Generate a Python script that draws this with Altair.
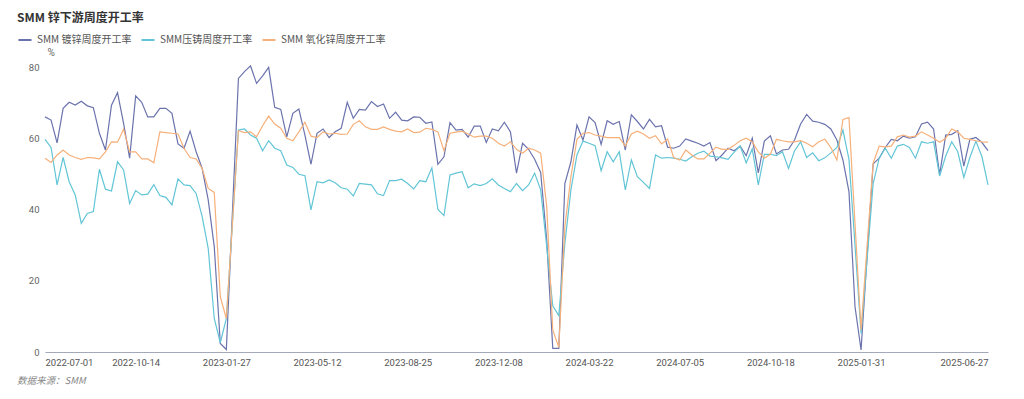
import altair as alt
import pandas as pd

TITLE = "SMM 锌下游周度开工率"
SOURCE = "数据来源：SMM"
SERIES = ["SMM 镀锌周度开工率", "SMM压铸周度开工率", "SMM 氧化锌周度开工率"]
COLORS = ["#6B73AD", "#62C5D6", "#F6B07A"]

START = "2022-07-01"
N_WEEKS = 157
TICK_LABELS = ["2022-07-01", "2022-10-14", "2023-01-27", "2023-05-12", "2023-08-25",
               "2023-12-08", "2024-03-22", "2024-07-05", "2024-10-18", "2025-01-31",
               "2025-06-27"]
Y_TICKS = [0, 20, 40, 60, 80]

galv = [66.0, 65.1, 58.7, 68.4, 70.1, 69.3, 70.4, 69.1, 68.6, 61.4,
        56.7, 69.3, 72.8, 64.2, 54.4, 71.9, 70.1, 66.0, 66.0, 68.4,
        68.4, 67.0, 58.4, 57.2, 62.0, 56.2, 51.5, 42.7, 29.6, 2.4,
        0.7, 39.0, 76.8, 78.7, 80.3, 75.4, 77.5, 79.9, 68.7, 68.1,
        60.4, 67.0, 68.2, 60.9, 52.7, 61.4, 62.6, 60.2, 61.8, 62.8,
        70.1, 65.6, 68.1, 67.9, 70.3, 68.9, 69.6, 65.6, 67.3, 65.1,
        64.9, 66.0, 65.9, 64.2, 64.6, 52.7, 54.8, 64.4, 62.3, 62.5,
        60.3, 63.4, 63.4, 58.8, 62.6, 62.1, 64.5, 61.8, 50.2, 58.6,
        56.9, 54.1, 50.4, 31.4, 1.0, 1.0, 47.3, 53.4, 63.7, 59.5,
        66.0, 64.4, 58.3, 64.9, 63.9, 64.7, 56.7, 66.6, 64.7, 62.6,
        65.3, 63.2, 63.5, 57.5, 57.2, 57.8, 59.8, 59.2, 58.6, 57.8,
        58.8, 53.7, 55.3, 57.2, 56.5, 57.8, 55.1, 60.0, 50.3, 59.2,
        60.7, 55.6, 56.7, 56.9, 59.5, 64.0, 66.7, 64.8, 64.5, 63.9,
        62.6, 59.5, 53.9, 45.0, 12.7, 0.6, 27.0, 52.8, 54.4, 57.4,
        59.7, 59.3, 60.6, 60.0, 60.4, 64.0, 64.5, 62.6, 49.7, 60.9,
        61.1, 62.1, 52.2, 59.7, 60.2, 58.8, 56.5]

diecast = [59.7, 57.4, 46.9, 54.6, 47.8, 44.1, 36.1, 38.9, 39.4, 51.3,
           45.7, 45.2, 53.4, 51.1, 41.7, 45.3, 44.1, 44.3, 47.0, 43.9,
           43.4, 41.3, 48.6, 46.9, 46.7, 44.5, 38.0, 29.1, 9.4, 2.6,
           9.4, 36.0, 62.3, 62.6, 60.9, 60.0, 56.5, 59.3, 57.2, 56.5,
           52.5, 51.8, 49.9, 49.5, 39.9, 47.8, 47.5, 48.3, 47.5, 46.1,
           45.7, 43.8, 47.3, 47.1, 46.9, 44.4, 43.9, 48.1, 48.1, 48.5,
           47.3, 45.8, 48.1, 47.8, 51.7, 40.0, 38.3, 49.7, 50.2, 50.6,
           46.1, 47.2, 46.7, 47.3, 48.6, 46.9, 45.9, 45.0, 47.3, 45.3,
           46.9, 50.2, 45.5, 29.6, 13.0, 10.2, 30.5, 45.5, 55.3, 59.2,
           58.6, 57.9, 50.9, 56.2, 53.4, 56.2, 45.5, 53.9, 49.2, 47.6,
           45.9, 55.3, 54.4, 54.6, 54.4, 54.1, 53.6, 54.8, 55.8, 56.4,
           55.0, 54.8, 54.5, 54.1, 56.1, 57.8, 53.1, 57.0, 46.9, 55.5,
           55.5, 55.1, 56.2, 51.5, 56.5, 59.0, 54.6, 55.9, 53.7, 54.5,
           55.9, 57.4, 62.3, 54.1, 30.0, 5.2, 26.0, 47.3, 54.4, 57.2,
           54.4, 57.8, 58.3, 57.4, 54.4, 59.0, 58.6, 59.0, 49.4, 55.0,
           59.0, 56.2, 49.0, 54.6, 59.2, 54.8, 46.9]

oxide = [54.4, 53.2, 55.3, 56.7, 55.3, 54.6, 54.1, 54.6, 54.5, 54.2,
         56.2, 59.0, 58.9, 62.5, 56.2, 56.2, 54.2, 54.2, 53.1, 61.8,
         61.6, 61.4, 61.2, 57.2, 54.6, 54.2, 51.5, 45.9, 44.8, 15.5,
         9.4, 36.0, 62.1, 61.6, 61.8, 60.4, 63.5, 66.2, 64.0, 62.8,
         60.0, 59.3, 61.8, 64.5, 60.6, 60.2, 61.8, 61.2, 61.4, 61.1,
         61.2, 63.9, 64.9, 63.2, 62.5, 62.5, 63.2, 62.5, 62.0, 61.8,
         62.6, 61.6, 61.7, 62.8, 62.5, 61.8, 56.5, 61.4, 61.7, 62.0,
         61.2, 60.3, 60.6, 60.6, 60.0, 58.6, 57.8, 59.0, 56.9, 55.8,
         57.2, 56.7, 55.8, 40.8, 6.2, 1.3, 35.2, 49.2, 59.7, 61.4,
         61.6, 60.9, 60.6, 60.2, 60.2, 60.2, 57.8, 61.2, 62.0, 61.2,
         60.0, 60.7, 58.4, 59.8, 54.6, 53.9, 56.7, 55.3, 54.2, 54.2,
         55.8, 57.5, 56.9, 56.9, 58.0, 59.3, 60.0, 59.0, 56.2, 54.4,
         55.5, 59.7, 59.3, 59.0, 59.0, 59.3, 58.6, 57.6, 59.0, 59.7,
         57.4, 53.9, 65.3, 65.8, 36.0, 6.2, 30.0, 53.0, 57.8, 57.6,
         57.8, 60.4, 60.9, 60.3, 60.6, 61.8, 60.9, 60.0, 58.9, 60.0,
         62.6, 61.8, 60.0, 59.7, 59.3, 59.0, 58.9]

dates = pd.date_range(START, periods=N_WEEKS, freq="7D").strftime("%Y-%m-%d").tolist()

rows = []
for name, vals in zip(SERIES, [galv, diecast, oxide]):
    for d, v in zip(dates, vals):
        rows.append({"date": d, "value": v, "series": name})
df = pd.DataFrame(rows)


def dt(s):
    y, m, d = (int(p) for p in s.split("-"))
    return alt.DateTime(year=y, month=m, date=d, utc=True)


FONT = "Noto Sans CJK SC"

lines = alt.Chart(df).mark_line(strokeWidth=1.2).encode(
    x=alt.X("date:T", timeUnit="utcyearmonthdate",
            scale=alt.Scale(type="utc", domain=[dt(dates[0]), dt(dates[-1])], nice=False),
            axis=alt.Axis(values=[dt(s) for s in TICK_LABELS], format="%Y-%m-%d",
                          title=None, grid=False, ticks=False, labelFlush=True,
                          domainColor="#A3A9B8", domainWidth=1,
                          labelFontSize=9.5, labelColor="#555555", labelPadding=5,
                          labelFont="Roboto")),
    y=alt.Y("value:Q", scale=alt.Scale(domain=[0, 80], nice=False),
            axis=alt.Axis(values=Y_TICKS, grid=False, ticks=False, domain=False,
                          labelFontSize=9.5, labelColor="#666666", labelPadding=6,
                          labelFont="Roboto",
                          title="%", titleAngle=0, titleX=2, titleY=-15,
                          titleAlign="left", titleBaseline="middle",
                          titleFontWeight="normal", titleFontSize=10,
                          titleColor="#666666", titleFont="Roboto")),
    color=alt.Color("series:N",
                    scale=alt.Scale(domain=SERIES, range=COLORS),
                    legend=alt.Legend(orient="none", legendX=-28, legendY=-35,
                                      direction="horizontal", title=None,
                                      symbolType="stroke", symbolStrokeWidth=2,
                                      symbolSize=170, labelFontSize=10,
                                      labelColor="#555555", labelFont=FONT,
                                      columnPadding=5, labelOffset=4, padding=0)),
    detail="series:N",
)

title = alt.Chart(pd.DataFrame({"t": [TITLE]})).mark_text(
    align="left", baseline="middle", fontSize=12, fontWeight="bold",
    color="#333333", font=FONT
).encode(text="t:N", x=alt.value(-28), y=alt.value(-49))

footer = alt.Chart(pd.DataFrame({"t": [SOURCE]})).mark_text(
    align="left", baseline="middle", fontSize=9.5, fontStyle="italic",
    color="#888888", font=FONT
).encode(text="t:N", x=alt.value(-28), y=alt.value(314))

chart = alt.layer(lines, title, footer).properties(
    width=943, height=285,
    autosize=alt.AutoSizeParams(type="none"),
    padding={"left": 37, "top": 59, "right": 20, "bottom": 40},
).configure_view(stroke=None)

chart.save("out.html", embed_options={"renderer": "svg", "actions": False})
